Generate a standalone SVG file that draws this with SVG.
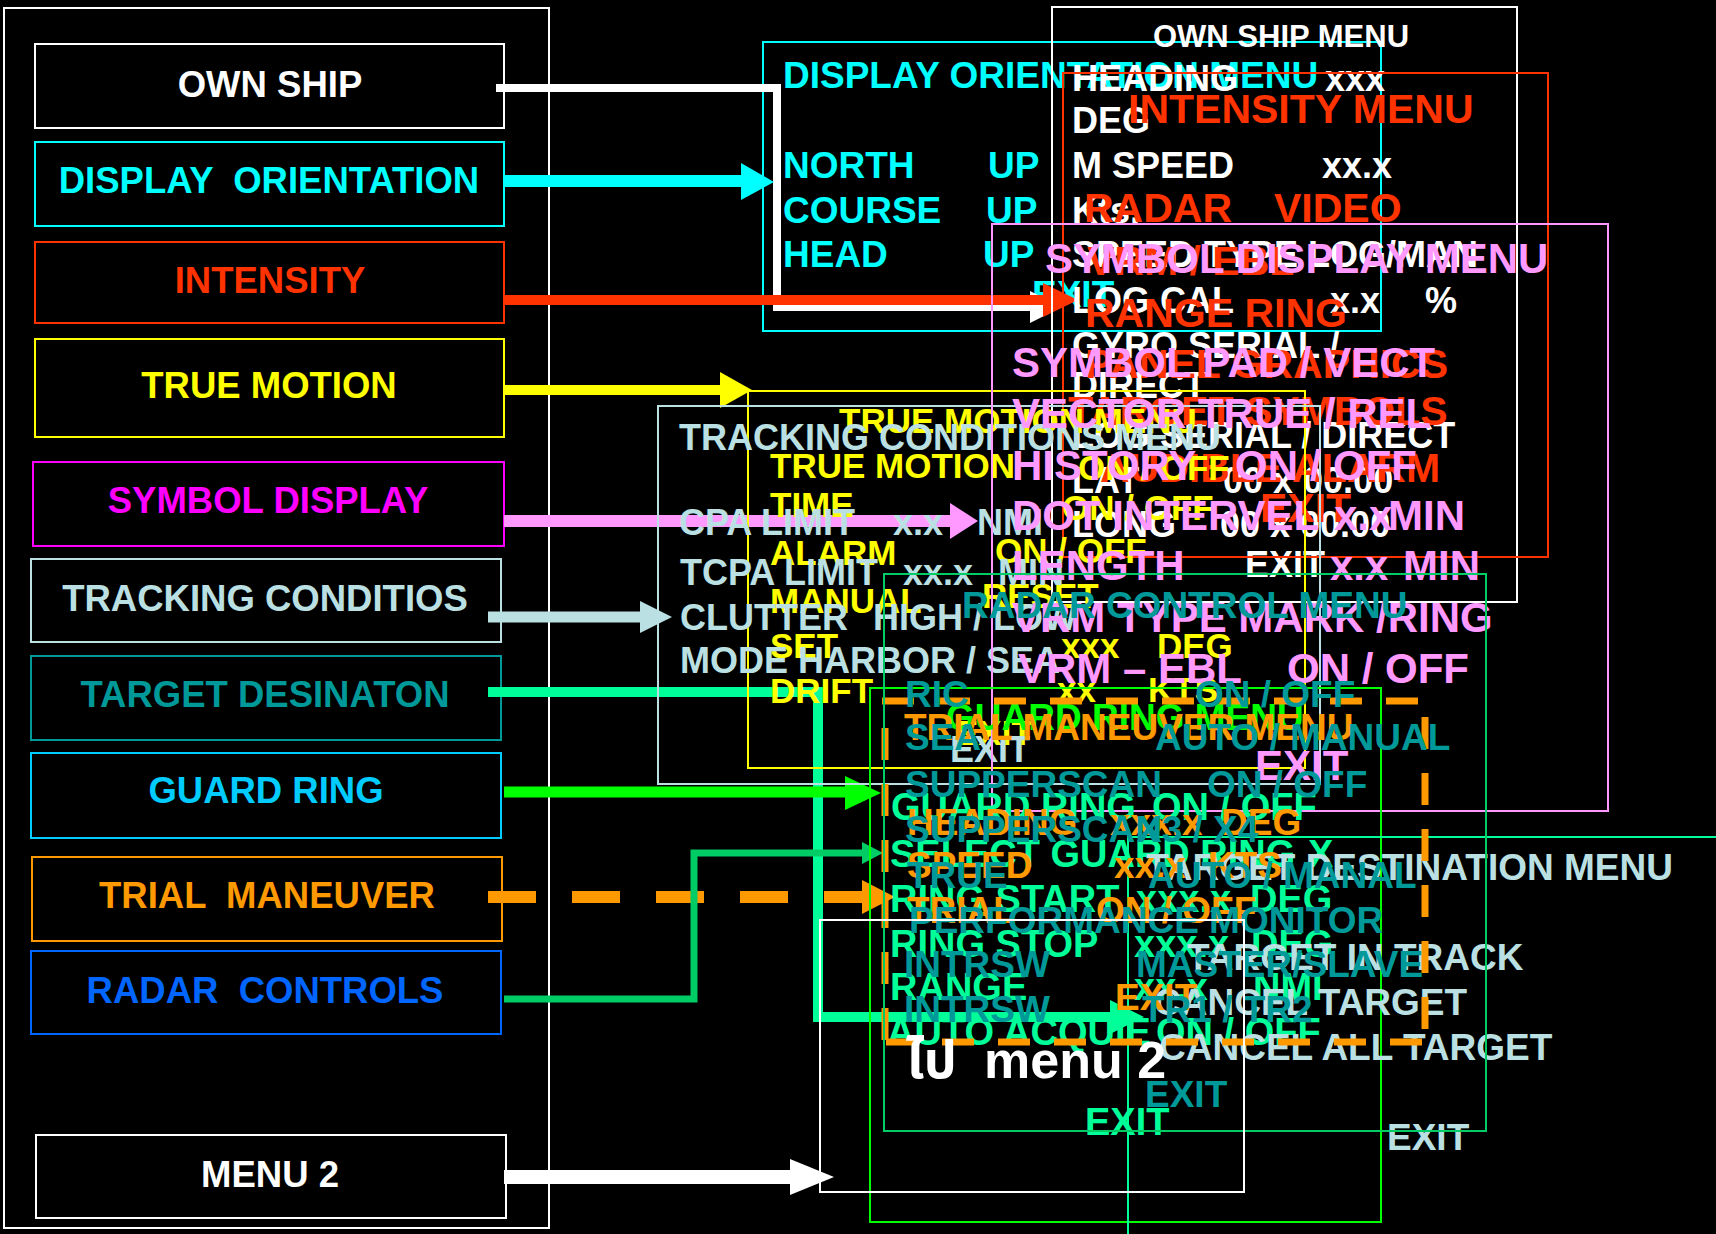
<svg xmlns="http://www.w3.org/2000/svg" width="1716" height="1234" viewBox="0 0 1716 1234">
<style>
text{font-family:"Liberation Sans",Arial,"Noto Sans Thai","Noto Sans",sans-serif;font-weight:bold;white-space:pre}
.box{fill:none;stroke-width:2}
.node text{font-size:36.5px;text-anchor:middle}
.m{fill:none;stroke-width:2}
.c-w{fill:#FFFFFF}.s-w{stroke:#FFFFFF}
.c-cy{fill:#00FFFF}.s-cy{stroke:#00FFFF}
.c-rd{fill:#FF3300}.s-rd{stroke:#FF3300}
.c-ye{fill:#FFFF00}.s-ye{stroke:#FFFF00}
.c-mg{fill:#FF00FF}.s-mg{stroke:#FF00FF}
.c-lb{fill:#BBE0E3}.s-lb{stroke:#BBE0E3}
.c-tl{fill:#009999}.s-tl{stroke:#009999}
.c-sk{fill:#00CCFF}.s-sk{stroke:#00CCFF}
.c-or{fill:#FF9900}.s-or{stroke:#FF9900}
.c-bl{fill:#0066FF}.s-bl{stroke:#0066FF}
.c-pk{fill:#FF99FF}.s-pk{stroke:#FF99FF}
.c-sg{fill:#00FF99}.s-sg{stroke:#00FF99}
.c-gr{fill:#00FF00}.s-gr{stroke:#00FF00}
.c-mgr{fill:#00CC66}.s-mgr{stroke:#00CC66}
.ln{fill:none}
.t36{font-size:36px}.t37{font-size:37px}.t35{font-size:35px}.t38{font-size:38px}.t41{font-size:41px}.t42{font-size:42px}
</style>
<rect x="0" y="0" width="1716" height="1234" fill="#000000"/>

<!-- left panel -->
<rect x="4" y="8" width="545" height="1220" class="box s-w"/>
<g id="own-ship" class="node"><rect x="35" y="44" width="469" height="84" class="box s-w"/><text x="270" y="97" class="c-w">OWN SHIP</text></g>
<g id="display-orientation" class="node"><rect x="35" y="142" width="469" height="84" class="box s-cy"/><text x="269" y="193" class="c-cy">DISPLAY  ORIENTATION</text></g>
<g id="intensity" class="node"><rect x="35" y="242" width="469" height="81" class="box s-rd"/><text x="270" y="293" class="c-rd">INTENSITY</text></g>
<g id="true-motion" class="node"><rect x="35" y="339" width="469" height="98" class="box s-ye"/><text x="269" y="398" class="c-ye">TRUE MOTION</text></g>
<g id="symbol-display" class="node"><rect x="33" y="462" width="471" height="84" class="box s-mg"/><text x="268" y="513" class="c-mg">SYMBOL DISPLAY</text></g>
<g id="tracking-conditios" class="node"><rect x="31" y="559" width="470" height="83" class="box s-lb"/><text x="265" y="611" class="c-lb">TRACKING CONDITIOS</text></g>
<g id="target-desinaton" class="node"><rect x="31" y="656" width="470" height="84" class="box s-tl"/><text x="265" y="707" class="c-tl">TARGET DESINATON</text></g>
<g id="guard-ring" class="node"><rect x="31" y="753" width="470" height="85" class="box s-sk"/><text x="266" y="803" class="c-sk">GUARD RING</text></g>
<g id="trial-maneuver" class="node"><rect x="32" y="857" width="470" height="84" class="box s-or"/><text x="267" y="908" class="c-or">TRIAL  MANEUVER</text></g>
<g id="radar-controls" class="node"><rect x="31" y="951" width="470" height="83" class="box s-bl"/><text x="265" y="1003" class="c-bl">RADAR  CONTROLS</text></g>
<g id="menu-2" class="node"><rect x="36" y="1135" width="470" height="83" class="box s-w"/><text x="270" y="1187" class="c-w">MENU 2</text></g>

<!-- display orientation menu -->
<g id="display-orientation-menu" class="t37 c-cy">
<rect x="763" y="42" width="618" height="289" class="m s-cy"/>
<text x="783" y="88">DISPLAY ORIENTATION MENU</text>
<text x="783" y="178">NORTH</text><text x="988" y="178">UP</text>
<text x="783" y="223">COURSE</text><text x="986" y="223">UP</text>
<text x="783" y="267">HEAD</text><text x="983" y="267">UP</text>
<text x="1032" y="307">EXIT</text>
</g>

<!-- connectors -->
<g id="connectors">
<polyline points="496,88 777,88 777,307 1032,307" class="ln s-w" stroke-width="8"/>
<polygon points="1030,291 1062,307 1030,323" class="c-w"/>
<line x1="504" y1="181" x2="743" y2="181" class="s-cy" stroke-width="12"/>
<polygon points="741,163 774,182 741,200" class="c-cy"/>
<line x1="504" y1="300" x2="1045" y2="300" class="s-rd" stroke-width="10"/>
<polygon points="1043,283 1078,300 1043,317" class="c-rd"/>
<line x1="504" y1="390" x2="722" y2="390" class="s-ye" stroke-width="10"/>
<polygon points="720,372 752,390 720,408" class="c-ye"/>
<line x1="504" y1="521" x2="952" y2="521" class="s-pk" stroke-width="12"/>
<polygon points="950,503 978,521 950,539" class="c-pk"/>
<line x1="488" y1="617" x2="642" y2="617" class="s-lb" stroke-width="11"/>
<polygon points="640,601 672,617 640,633" class="c-lb"/>
<polyline points="488,692 818,692 818,1017 1112,1017" class="ln s-sg" stroke-width="10"/>
<polygon points="1110,1000 1144,1017 1110,1034" class="c-sg"/>
<line x1="504" y1="792" x2="847" y2="792" class="s-gr" stroke-width="11"/>
<polygon points="845,776 881,793 845,810" class="c-gr"/>
<line x1="488" y1="897" x2="862" y2="897" class="s-or" stroke-width="12" stroke-dasharray="48 36"/>
<polygon points="862,880 895,897 862,914" class="c-or"/>
<polyline points="504,999 694,999 694,853 864,853" class="ln s-mgr" stroke-width="7"/>
<polygon points="862,842 883,853 862,864" class="c-mgr"/>
<line x1="504" y1="1177" x2="792" y2="1177" class="s-w" stroke-width="14"/>
<polygon points="790,1159 834,1177 790,1195" class="c-w"/>
</g>

<!-- own ship menu -->
<g id="own-ship-menu" class="t36 c-w">
<rect x="1052" y="7" width="465" height="595" class="m s-w"/>
<text x="1153" y="47" style="font-size:31px">OWN SHIP MENU</text>
<text x="1072" y="91">HEADING</text><text x="1325" y="91">xxx</text>
<text x="1072" y="133">DEG</text>
<text x="1072" y="178">M SPEED</text><text x="1322" y="178">xx.x</text>
<text x="1072" y="223">Kts.</text>
<text x="1072" y="267">SPEED TYPE LOG/MAN</text>
<text x="1072" y="313">LOG CAL</text><text x="1330" y="313">x.x</text><text x="1425" y="313">%</text>
<text x="1072" y="358">GYRO SERIAL /</text>
<text x="1072" y="398">DIRECT</text>
<text x="1072" y="448">LOG SERIAL / DIRECT</text>
<text x="1072" y="493">LAT</text><text x="1223" y="493">00 x 00.00</text>
<text x="1072" y="537">LONG</text><text x="1220" y="537">00 x 00.00</text>
<text x="1245" y="577">EXIT</text>
</g>

<!-- intensity menu -->
<g id="intensity-menu" class="t41 c-rd">
<rect x="1063" y="73" width="485" height="484" class="m s-rd"/>
<text x="1128" y="123">INTENSITY MENU</text>
<text x="1084" y="222">RADAR</text><text x="1274" y="222">VIDEO</text>
<text x="1087" y="275">VRM / EBL</text>
<text x="1085" y="327">RANGE RING</text>
<text x="1085" y="378">PANEL GRAPHICS</text>
<text x="1068" y="425">TARGET SYMBOLS</text>
<text x="1100" y="482">AUDIBLE ALARM</text>
<text x="1260" y="522">EXIT</text>
</g>

<!-- true motion menu -->
<g id="true-motion-menu" class="t35 c-ye">
<rect x="748" y="391" width="557" height="377" class="m s-ye"/>
<text x="839" y="433">TRUE MOTION MENU</text>
<text x="770" y="478">TRUE MOTION</text><text x="1078" y="480">ON / OFF</text>
<text x="770" y="517">TIME</text><text x="1062" y="520">ON / OFF</text>
<text x="770" y="565">ALARM</text><text x="995" y="563">ON / OFF</text>
<text x="770" y="613">MANUAL</text><text x="982" y="608">RESET</text>
<text x="770" y="658">SET</text><text x="1061" y="658">xxx</text><text x="1157" y="658">DEG</text>
<text x="770" y="703">DRIFT</text><text x="1057" y="702">xx</text><text x="1148" y="702">KTS</text>
<text x="955" y="745">EXIT</text>
</g>

<!-- tracking conditions menu -->
<g id="tracking-conditions-menu" class="t36 c-lb">
<rect x="658" y="406" width="662" height="378" class="m s-lb"/>
<text x="679" y="450">TRACKING CONDITIONS MENU</text>
<text x="679" y="535">CPA LIMIT</text><text x="893" y="535">x.x</text><text x="977" y="535">NMI</text>
<text x="680" y="585">TCPA LIMIT</text><text x="903" y="585">xx.x</text><text x="998" y="585">MIN</text>
<text x="680" y="630">CLUTTER</text><text x="873" y="630">HIGH / LOW</text>
<text x="680" y="673">MODE HARBOR / SEA</text>
<text x="950" y="762">EXIT</text>
</g>

<!-- symbol display menu -->
<g id="symbol-display-menu" class="t42 c-pk">
<rect x="992" y="224" width="616" height="587" class="m s-pk"/>
<text x="1045" y="273">SYMBOL DISPLAY MENU</text>
<text x="1012" y="377">SYMBOL PAD / VECT</text>
<text x="1012" y="428">VECTOR TRUE / REL</text>
<text x="1012" y="480">HISTORY</text><text x="1235" y="480">ON / OFF</text>
<text x="1012" y="530">DOT INTERVEL</text><text x="1334" y="530">x.x</text><text x="1388" y="530">MIN</text>
<text x="1012" y="580">LENGTH</text><text x="1330" y="580">x.x</text><text x="1403" y="580">MIN</text>
<text x="1012" y="632">VRM TYPE MARK /RING</text>
<text x="1018" y="683">VRM – EBL</text><text x="1287" y="683">ON / OFF</text>
<text x="1255" y="780">EXIT</text>
</g>

<!-- guard ring menu -->
<g id="guard-ring-menu" class="t38 c-sg">
<rect x="870" y="688" width="511" height="534" class="m s-gr"/>
<text x="946" y="730" class="t37 c-gr">GUARD RING MENU</text>
<text x="891" y="820">GUARD RING</text><text x="1152" y="820">ON / OFF</text>
<text x="890" y="867">SELECT GUARD RING</text><text x="1308" y="867">X</text>
<text x="890" y="912">RING START</text><text x="1136" y="912">xxx.x</text><text x="1250" y="912">DEG</text>
<text x="890" y="957">RING STOP</text><text x="1134" y="957">xxx.x</text><text x="1251" y="957">DEG</text>
<text x="890" y="1000">RANGE</text><text x="1134" y="1000">xx.x</text><text x="1253" y="1000">NMI</text>
<text x="887" y="1045">AUTO ACQUIE</text><text x="1156" y="1045">ON / OFF</text>
<text x="1085" y="1135">EXIT</text>
</g>

<!-- target destination menu -->
<g id="target-destination-menu" class="t37 c-lb">
<rect x="1128" y="837" width="700" height="500" class="m s-sg"/>
<text x="1146" y="880">TARGET DESTINATION MENU</text>
<text x="1187" y="970">TARGET IN TRACK</text>
<text x="1154" y="1015">CANCEL TARGET</text>
<text x="1159" y="1060">CANCEL ALL TARGET</text>
<text x="1387" y="1150">EXIT</text>
</g>

<!-- trial maneuver menu -->
<g id="trial-maneuver-menu" class="t37 c-or">
<g class="s-or" stroke-width="7" stroke-dasharray="32 24" fill="none">
<line x1="882" y1="701" x2="1428" y2="701"/>
<line x1="885" y1="728" x2="885" y2="1042"/>
<line x1="1425" y1="717" x2="1425" y2="1042"/>
<line x1="886" y1="1042" x2="1428" y2="1042"/>
</g>
<text x="904" y="740">TRIAL MANEUVER MENU</text>
<text x="907" y="835">HEADING</text><text x="1110" y="835">xxx.x</text><text x="1221" y="835">DEG</text>
<text x="907" y="878">SPEED</text><text x="1114" y="878">xx.x</text><text x="1208" y="878">KTS</text>
<text x="907" y="923">TRIAL</text><text x="1096" y="923">ON / OFF</text>
<text x="1115" y="1010">EXIT</text>
</g>

<!-- radar control menu -->
<g id="radar-control-menu" class="t37 c-tl">
<rect x="884" y="574" width="602" height="557" class="m s-mgr"/>
<text x="962" y="618">RADAR CONTROL MENU</text>
<text x="905" y="707">RIC</text><text x="1195" y="707">ON / OFF</text>
<text x="905" y="750">SEA</text><text x="1155" y="750">AUTO / MANUAL</text>
<text x="905" y="797">SUPPERSCAN</text><text x="1207" y="797">ON / OFF</text>
<text x="905" y="842">SUPPERSCAN</text><text x="1137" y="842">X3 / X4</text>
<text x="907" y="888">TRUE</text><text x="1148" y="888">AUTO / MANAL</text>
<text x="909" y="933">PERFORMANCE MONITOR</text>
<text x="904" y="977">INTRSW</text><text x="1136" y="977">MASTER/SLAVE</text>
<text x="904" y="1022">INTRSW</text><text x="1142" y="1022">TR1 / TR2</text>
<text x="1145" y="1107">EXIT</text>
</g>

<!-- menu 2 -->
<g id="menu-2-panel">
<rect x="820" y="920" width="424" height="272" class="m s-w"/>
<text x="906" y="1078" class="c-w" style="font-size:52px">ไป<tspan x="984">menu 2</tspan></text>
</g>
</svg>
